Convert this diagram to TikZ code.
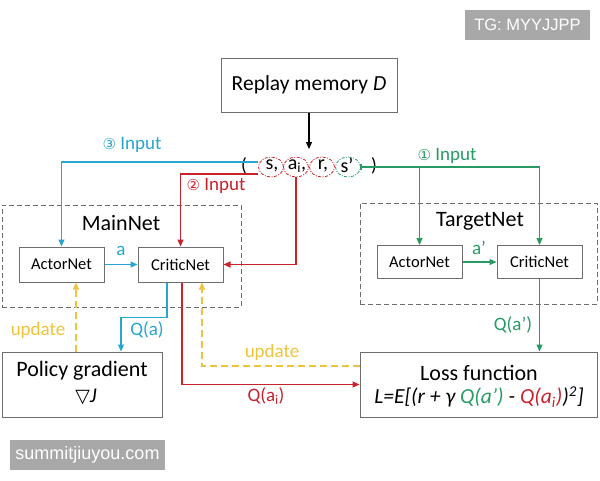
\documentclass[tikz,border=0pt]{standalone}
\usepackage{fontspec}
\setmainfont{Carlito}
\newfontfamily\dejavu{DejaVu Sans}
\newfontfamily\arialf{Liberation Sans}
\usetikzlibrary{arrows.meta,shapes.geometric}
\definecolor{cyl}{RGB}{40,165,208}
\definecolor{rdl}{RGB}{200,35,45}
\definecolor{grl}{RGB}{40,155,100}
\definecolor{yll}{RGB}{238,196,60}
\definecolor{bordg}{RGB}{110,110,110}
\definecolor{wmg}{RGB}{168,168,168}
\newcommand{\fs}[1]{\fontsize{#1}{#1}\selectfont}
\tikzset{
  box/.style={draw=bordg, line width=1pt, fill=white, inner sep=0pt},
  netbox/.style={box, minimum width=85pt, minimum height=35pt, font=\fs{16.5}},
  dashbox/.style={draw=bordg, line width=0.9pt, dash pattern=on 5pt off 3pt, inner sep=0pt},
  tip/.style={-{Triangle[length=7pt,width=6pt]}},
  cyline/.style={draw=cyl, line width=1.2pt},
  rdline/.style={draw=rdl, line width=1.2pt},
  grline/.style={draw=grl, line width=1.2pt},
  ylline/.style={draw=yll, line width=1.2pt, dash pattern=on 7pt off 4pt},
  tup/.style={ellipse, minimum width=25pt, minimum height=20pt, inner sep=0pt, line width=0.8pt, dash pattern=on 3pt off 1.5pt on 1pt off 1.5pt},
  lbl/.style={inner sep=0pt, font=\fs{19}},
  wm/.style={fill=wmg, text=white, inner sep=0pt},
}
\begin{document}
\begin{tikzpicture}[x=1pt,y=-1pt]
\useasboundingbox (0,0) rectangle (600,480);
\fill[white] (0,0) rectangle (600,480);

% watermark boxes
\node[wm, minimum width=125pt, minimum height=30pt, font=\arialf\fs{16.5}] (tg) at (527.5,25) {TG: MYYJJPP};
\node[wm, minimum width=155pt, minimum height=30pt, font=\arialf\fs{18}] (sj) at (87.5,455) {summitjiuyou.com};

% replay memory
\node[box, minimum width=176pt, minimum height=54pt, font=\fs{21.5}] (replay) at (309,85) {Replay memory \textit{D}};
\coordinate (memend) at (309,149);
\draw[line width=1.2pt, tip] (replay.south) -- (memend);

% tuple
\node[inner sep=0pt, font=\fs{19}] (lp) at (244,166) {(};
\node[inner sep=0pt, font=\fs{19}] (rp) at (374,166) {)};
\node[tup, draw=rdl] (ts) at (271,167) {};
\node[tup, draw=rdl] (tai) at (296,167) {};
\node[tup, draw=rdl] (tr) at (322,167) {};
\node[tup, draw=grl] (tsp) at (348,167) {};
\node[inner sep=0pt, font=\fs{20}] (txs) at (272,166) {s,};
\node[inner sep=0pt, font=\fs{20}] (txa) at (297,166) {a\textsubscript{i},};
\node[inner sep=0pt, font=\fs{20}] (txr) at (323,166) {r,};
\node[inner sep=0pt, font=\fs{20}] (txsp) at (347,166) {s’};

% net boxes
\node[dashbox, minimum width=239pt, minimum height=102pt] (mainnet) at (121.5,256) {};
\node[dashbox, minimum width=237pt, minimum height=101pt] (tgtnet) at (478.5,253.5) {};
\node[lbl, font=\fs{22}] (mainlbl) at (121,223) {MainNet};
\node[lbl, font=\fs{22}] (tgtlbl) at (480,221) {TargetNet};
\node[netbox] (mactor) at (61.5,264.5) {ActorNet};
\node[netbox] (mcritic) at (180.5,264.5) {CriticNet};
\node[netbox, minimum height=33pt] (tactor) at (419.5,262) {ActorNet};
\node[netbox, minimum height=33pt] (tcritic) at (539.5,262) {CriticNet};

% bottom boxes
\node[box, minimum width=237pt, minimum height=65pt] (loss) at (478.5,384.5) {};
\node[lbl, font=\fs{22}] (losst) at (479,373) {Loss function};
\node[lbl, font=\fs{21.5}] (lossf) at (479,397) {\itshape L=E[(r + γ \textcolor{grl}{Q(a’)} - \textcolor{rdl}{Q(a\textsubscript{i})})\textsuperscript{2}]};
\node[box, minimum width=160pt, minimum height=65pt] (policy) at (82,384.5) {};
\node[lbl, font=\fs{22}] (polt) at (82,371) {Policy gradient};
\node[lbl, font=\fs{21}] (polj) at (86,397) {{\dejavu\fs{19}▽}\textit{J}};

% cyan input 3
\coordinate (cin) at (258,162);
\draw[cyline, tip] (cin) -| (mactor.north);
\node[lbl, text=cyl] (l3) at (132,145) {{\dejavu\fs{15}③} Input};
% red input 2
\coordinate (rin) at (258,174);
\draw[rdline, tip] (rin) -| (mcritic.north);
\node[lbl, text=rdl] (l2) at (216,186) {{\dejavu\fs{15}②} Input};
\draw[rdline, tip] (tai.south) |- (mcritic.east);
% green input 1
\coordinate (gend) at (539.5,167);
\coordinate (gbr) at (419.5,167);
\draw[grline] (tsp.east) -- (gend);
\draw[grline] ([yshift=-3pt]tsp.east) -- ([yshift=3pt]tsp.east);
\draw[grline, tip] (gbr) -- (tactor.north);
\draw[grline, tip] (gend) -- (tcritic.north);
\node[lbl, text=grl] (l1) at (447,156) {{\dejavu\fs{15}①} Input};

% a and a'
\draw[cyline, tip] (mactor) -- (mcritic);
\node[lbl, text=cyl] (la) at (121,251) {a};
\draw[grline, tip] (tactor) -- (tcritic);
\node[lbl, text=grl] (lap) at (479,248) {a’};

% Q(a')
\draw[grline, tip] (tcritic.south) -- (tcritic.south |- loss.north);
\node[lbl, text=grl] (lqap) at (513,325) {Q(a’)};

% Q(a)
\draw[cyline, tip] ([xshift=-13.5pt]mcritic.south) -- ++(0,35) -| ([xshift=39pt]policy.north);
\node[lbl, text=cyl] (lqa) at (147,330) {Q(a)};

% Q(a_i)
\draw[rdline, tip] ([xshift=1.5pt]mcritic.south) |- (loss.west);
\node[lbl, text=rdl] (lqai) at (266,396) {Q(a\textsubscript{i})};

% updates
\draw[ylline, tip] ([yshift=18.5pt]loss.west) -| ([xshift=21.5pt]mcritic.south);
\node[lbl, text=yll] (lup2) at (272,352) {update};
\draw[ylline, tip] ([xshift=-6pt]policy.north) -- ([xshift=14.5pt]mactor.south);
\node[lbl, text=yll] (lup1) at (38,330) {update};
\end{tikzpicture}
\end{document}
